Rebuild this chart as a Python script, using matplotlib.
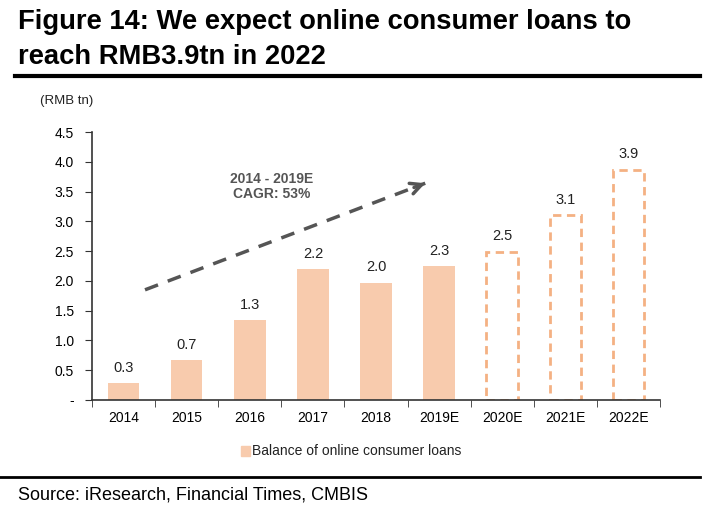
import matplotlib.pyplot as plt
import matplotlib.font_manager as fm
from matplotlib.patches import Rectangle
from matplotlib.lines import Line2D

# Data
years = ['2014', '2015', '2016', '2017', '2018', '2019E', '2020E', '2021E', '2022E']
balance = [0.28, 0.67, 1.34, 2.20, 1.97, 2.25, 2.49, 3.10, 3.87]
labels = ['0.3', '0.7', '1.3', '2.2', '2.0', '2.3', '2.5', '3.1', '3.9']
is_forecast = [False, False, False, False, False, False, True, True, True]
yticks = [0, 0.5, 1.0, 1.5, 2.0, 2.5, 3.0, 3.5, 4.0, 4.5]

# CAGR arrow endpoints (data coords)
arrow_x = [0.34, 4.78]
arrow_y = [1.85, 3.64]

names = {f.name for f in fm.fontManager.ttflist}
narrow = 'Liberation Sans Narrow' if 'Liberation Sans Narrow' in names else 'Liberation Sans'
plt.rcParams['font.family'] = ['Liberation Sans', 'DejaVu Sans']

fill_c = '#F8CBAD'
edge_c = '#F4B183'

fig = plt.figure(figsize=(7.15, 5.22), dpi=100)
ax = fig.add_axes([92 / 715, 1 - 400 / 522, (660 - 92) / 715, (400 - 132) / 522])

x = list(range(len(years)))
for xi, v, f in zip(x, balance, is_forecast):
    if f:
        ax.bar(xi, v, width=0.5, facecolor='white', edgecolor=edge_c,
               linestyle=(0, (3, 2)), linewidth=2)
    else:
        ax.bar(xi, v, width=0.5, color=fill_c, edgecolor='none')
for xi, v, lab in zip(x, balance, labels):
    ax.annotate(lab, (xi, v), xytext=(0, 6), textcoords='offset points',
                ha='center', va='bottom', fontsize=10.5, color='#222222')

ax.set_xlim(-0.5, len(years) - 0.5)
ax.set_ylim(0, 4.5)
ax.set_yticks(yticks)
ax.set_yticklabels(['-' if t == 0 else f'{t:.1f}' for t in yticks], fontsize=10)
ax.set_xticks(x)
ax.set_xticklabels(years, fontsize=10)
ax.tick_params(axis='x', which='major', length=0, pad=8)
ax.set_xticks([i - 0.5 for i in range(len(years) + 1)], minor=True)
ax.tick_params(axis='x', which='minor', length=5, direction='out', color='#333333')
ax.tick_params(axis='y', length=5, direction='out', color='#333333', pad=8)
for s in ['top', 'right']:
    ax.spines[s].set_visible(False)
for s in ['left', 'bottom']:
    ax.spines[s].set_color('#333333')
    ax.spines[s].set_linewidth(1.2)

# CAGR arrow: dashed shaft plus solid open head
ax.plot(arrow_x, arrow_y, color='#555555', lw=2.5, linestyle=(0, (4, 3)),
        solid_capstyle='butt')
dx = (arrow_x[1] - arrow_x[0]) * 0.04
dy = (arrow_y[1] - arrow_y[0]) * 0.04
ax.annotate('', xy=(arrow_x[1], arrow_y[1]), xytext=(arrow_x[1] - dx, arrow_y[1] - dy),
            arrowprops=dict(arrowstyle='->', color='#555555', lw=2.5, mutation_scale=20,
                            shrinkA=0, shrinkB=0))
ax.text(2.35, 3.59, '2014 - 2019E\nCAGR: 53%', ha='center', va='center',
        fontsize=10, fontweight='bold', color='#555555', linespacing=1.1)

# Unit label
fig.text(40 / 715, 1 - 101 / 522, '(RMB tn)', fontsize=9.5, va='center', color='#222222')

# Legend
fig.patches.append(Rectangle((241 / 715, 1 - 456 / 522), 9 / 715, 10 / 522,
                             transform=fig.transFigure, color=fill_c))
fig.text(252 / 715, 1 - 451 / 522, 'Balance of online consumer loans',
         fontsize=10, va='center', color='#222222')

# Title
fig.text(18 / 715, 1 - 22 / 522, 'Figure 14: We expect online consumer loans to',
         fontsize=19.7, fontweight='bold', family=[narrow, 'DejaVu Sans'], va='center')
fig.text(18 / 715, 1 - 57 / 522, 'reach RMB3.9tn in 2022',
         fontsize=19.7, fontweight='bold', family=[narrow, 'DejaVu Sans'], va='center')
fig.lines.append(Line2D([15 / 715, 700 / 715], [1 - 76 / 522, 1 - 76 / 522],
                        transform=fig.transFigure, color='black', lw=3))

# Source
fig.lines.append(Line2D([0, 700 / 715], [1 - 477 / 522, 1 - 477 / 522],
                        transform=fig.transFigure, color='black', lw=2))
fig.text(18 / 715, 1 - 495 / 522, 'Source: iResearch, Financial Times, CMBIS',
         fontsize=13, va='center')

fig.savefig('out.png', dpi=100, facecolor='white')
